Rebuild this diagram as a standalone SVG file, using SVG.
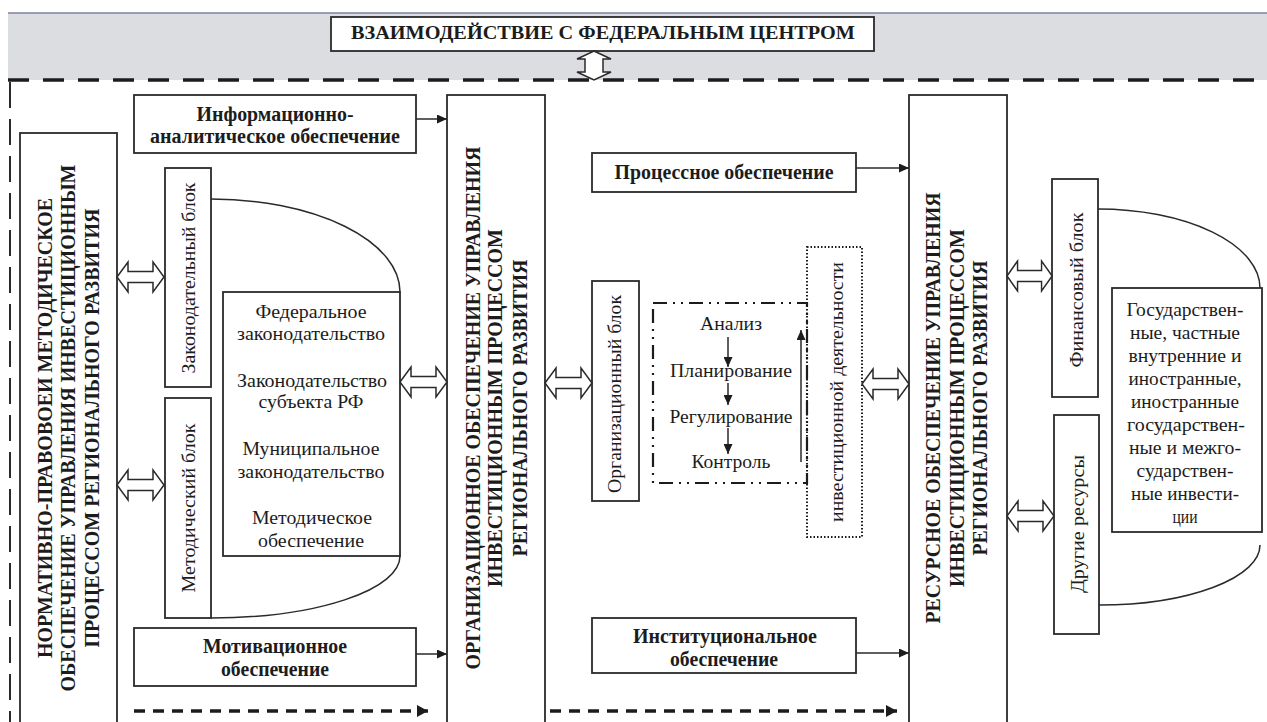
<svg xmlns="http://www.w3.org/2000/svg" width="1267" height="722" viewBox="0 0 1267 722">
  <style>
    .box{fill:#fff;stroke:#2a2a2a;stroke-width:1.8}
    .ln{fill:none;stroke:#2a2a2a;stroke-width:1.5}
    .t{font-family:"Liberation Serif","DejaVu Serif",serif;fill:#1c1c1c;font-size:19.5px}
    .b{font-weight:bold;font-size:20px}
    .big{font-family:"Liberation Serif","DejaVu Serif",serif;fill:#1c1c1c;font-weight:bold;font-size:21px}
    .dbl{fill:#fff;stroke:#2a2a2a;stroke-width:1.5}
    .arr{fill:none;stroke:#2a2a2a;stroke-width:1.5}
    .dash{fill:none;stroke:#1c1c1c;stroke-width:3.5;stroke-dasharray:11 8}
  </style>
  <defs>
    <marker id="ah" markerUnits="userSpaceOnUse" markerWidth="11" markerHeight="9" refX="10" refY="4.5" orient="auto">
      <path d="M0,0 L10,4.5 L0,9 Z" fill="#1c1c1c"/>
    </marker>
    <marker id="ahb" markerUnits="userSpaceOnUse" markerWidth="12" markerHeight="12" refX="11" refY="6" orient="auto">
      <path d="M0,0 L11,6 L0,12 Z" fill="#1c1c1c"/>
    </marker>
    <!-- hollow two-way arrow, 47 px long, centred on y=0 -->
    <path id="dblarrow" class="dbl" d="M0,0 L11,-15 L11,-5.5 L36,-5.5 L36,-15 L47,0 L36,15 L36,5.5 L11,5.5 L11,15 Z"/>
  </defs>

  <!-- federal level band -->
  <rect x="8" y="13" width="1259" height="67" fill="#dcdde0"/>
  <line x1="8" y1="13" x2="1267" y2="13" stroke="#7c82a6" stroke-width="1.6"/>

  <g id="federal-center">
    <rect class="box" x="331" y="17" width="543" height="34"/>
    <text class="t" x="603" y="39" text-anchor="middle" font-weight="bold" font-size="18" textLength="504" lengthAdjust="spacingAndGlyphs">ВЗАИМОДЕЙСТВИЕ С ФЕДЕРАЛЬНЫМ ЦЕНТРОМ</text>
  </g>

  <!-- regional boundary -->
  <g id="boundary">
    <line x1="8" y1="80" x2="1267" y2="80" stroke="#1c1c1c" stroke-width="3.5" stroke-dasharray="21 14"/>
    <line x1="10" y1="82" x2="10" y2="722" stroke="#2a2a2a" stroke-width="2" stroke-dasharray="26 11"/>
  </g>

  <!-- left column -->
  <g id="normative">
    <rect class="box" x="20" y="133" width="97" height="600"/>
    <text class="big" transform="translate(52,428) rotate(-90)" text-anchor="middle" textLength="460" lengthAdjust="spacingAndGlyphs">НОРМАТИВНО-ПРАВОВОЕИ МЕТОДИЧЕСКОЕ</text>
    <text class="big" transform="translate(75,428) rotate(-90)" text-anchor="middle" textLength="527" lengthAdjust="spacingAndGlyphs">ОБЕСПЕЧЕНИЕ УПРАВЛЕНИЯ ИНВЕСТИЦИОННЫМ</text>
    <text class="big" transform="translate(99,428) rotate(-90)" text-anchor="middle" textLength="439" lengthAdjust="spacingAndGlyphs">ПРОЦЕССОМ РЕГИОНАЛЬНОГО РАЗВИТИЯ</text>
  </g>

  <g id="info-analytic">
    <rect class="box" x="134" y="95" width="282" height="58"/>
    <text class="t b" x="275" y="121" text-anchor="middle" textLength="157" lengthAdjust="spacingAndGlyphs">Информационно-</text>
    <text class="t b" x="275" y="143" text-anchor="middle" textLength="250" lengthAdjust="spacingAndGlyphs">аналитическое обеспечение</text>
  </g>

  <g id="legislative-block">
    <rect class="box" x="165" y="168" width="46" height="219"/>
    <text class="t" transform="translate(195,278) rotate(-90)" text-anchor="middle" textLength="191" lengthAdjust="spacingAndGlyphs">Законодательный блок</text>
  </g>

  <g id="methodical-block">
    <rect class="box" x="165" y="398" width="46" height="220"/>
    <text class="t" transform="translate(195,508) rotate(-90)" text-anchor="middle" textLength="169" lengthAdjust="spacingAndGlyphs">Методический блок</text>
  </g>

  <g id="legislation">
    <path class="ln" d="M211,199 A189,93 0 0 1 400,292"/>
    <path class="ln" d="M400,556 A189,62 0 0 1 211,618"/>
    <rect class="box" x="223" y="292" width="177" height="264"/>
    <text class="t" x="311" y="318" text-anchor="middle" textLength="111" lengthAdjust="spacingAndGlyphs">Федеральное</text>
    <text class="t" x="311" y="340" text-anchor="middle" textLength="148" lengthAdjust="spacingAndGlyphs">законодательство</text>
    <text class="t" x="312" y="387" text-anchor="middle" textLength="150" lengthAdjust="spacingAndGlyphs">Законодательство</text>
    <text class="t" x="311" y="408" text-anchor="middle" textLength="105" lengthAdjust="spacingAndGlyphs">субъекта РФ</text>
    <text class="t" x="311" y="455" text-anchor="middle" textLength="137" lengthAdjust="spacingAndGlyphs">Муниципальное</text>
    <text class="t" x="311" y="478" text-anchor="middle" textLength="147" lengthAdjust="spacingAndGlyphs">законодательство</text>
    <text class="t" x="312" y="524" text-anchor="middle" textLength="120" lengthAdjust="spacingAndGlyphs">Методическое</text>
    <text class="t" x="311" y="547" text-anchor="middle" textLength="106" lengthAdjust="spacingAndGlyphs">обеспечение</text>
  </g>

  <g id="motivational">
    <rect class="box" x="134" y="628" width="282" height="58"/>
    <text class="t b" x="275" y="653" text-anchor="middle" textLength="144" lengthAdjust="spacingAndGlyphs">Мотивационное</text>
    <text class="t b" x="275" y="676" text-anchor="middle" textLength="108" lengthAdjust="spacingAndGlyphs">обеспечение</text>
  </g>

  <!-- centre column -->
  <g id="organizational">
    <rect class="box" x="447" y="95" width="98" height="640"/>
    <text class="big" transform="translate(480,408) rotate(-90)" text-anchor="middle" textLength="523" lengthAdjust="spacingAndGlyphs">ОРГАНИЗАЦИОННОЕ ОБЕСПЕЧЕНИЕ УПРАВЛЕНИЯ</text>
    <text class="big" transform="translate(502,408) rotate(-90)" text-anchor="middle" textLength="358" lengthAdjust="spacingAndGlyphs">ИНВЕСТИЦИОННЫМ ПРОЦЕССОМ</text>
    <text class="big" transform="translate(527,408) rotate(-90)" text-anchor="middle" textLength="297" lengthAdjust="spacingAndGlyphs">РЕГИОНАЛЬНОГО РАЗВИТИЯ</text>
  </g>

  <g id="process">
    <rect class="box" x="592" y="153" width="264" height="39"/>
    <text class="t b" x="724" y="179" text-anchor="middle" textLength="219" lengthAdjust="spacingAndGlyphs">Процессное обеспечение</text>
  </g>

  <g id="org-block">
    <rect class="box" x="592" y="281" width="47" height="220"/>
    <text class="t" transform="translate(621,394) rotate(-90)" text-anchor="middle" textLength="198" lengthAdjust="spacingAndGlyphs">Организационный блок</text>
  </g>

  <g id="management-cycle">
    <rect x="653" y="303" width="154" height="180" fill="none" stroke="#1c1c1c" stroke-width="2.2" stroke-dasharray="14 6 2 6 2 6"/>
    <text class="t" x="731" y="330" text-anchor="middle" textLength="62" lengthAdjust="spacingAndGlyphs">Анализ</text>
    <text class="t" x="731" y="377" text-anchor="middle" textLength="122" lengthAdjust="spacingAndGlyphs">Планирование</text>
    <text class="t" x="731" y="423" text-anchor="middle" textLength="123" lengthAdjust="spacingAndGlyphs">Регулирование</text>
    <text class="t" x="731" y="468" text-anchor="middle" textLength="79" lengthAdjust="spacingAndGlyphs">Контроль</text>
  </g>

  <g id="investment-activity">
    <rect x="807" y="247" width="55" height="290" fill="none" stroke="#1c1c1c" stroke-width="2" stroke-dasharray="1.5 2"/>
    <text class="t" transform="translate(843,392) rotate(-90)" text-anchor="middle" textLength="260" lengthAdjust="spacingAndGlyphs">инвестиционной деятельности</text>
  </g>

  <g id="institutional">
    <rect class="box" x="592" y="618" width="264" height="55"/>
    <text class="t b" x="725" y="643" text-anchor="middle" textLength="184" lengthAdjust="spacingAndGlyphs">Институциональное</text>
    <text class="t b" x="724" y="666" text-anchor="middle" textLength="108" lengthAdjust="spacingAndGlyphs">обеспечение</text>
  </g>

  <!-- right column -->
  <g id="resource">
    <rect class="box" x="909" y="95" width="98" height="640"/>
    <text class="big" transform="translate(940,408) rotate(-90)" text-anchor="middle" textLength="431" lengthAdjust="spacingAndGlyphs">РЕСУРСНОЕ ОБЕСПЕЧЕНИЕ УПРАВЛЕНИЯ</text>
    <text class="big" transform="translate(964,408) rotate(-90)" text-anchor="middle" textLength="358" lengthAdjust="spacingAndGlyphs">ИНВЕСТИЦИОННЫМ ПРОЦЕССОМ</text>
    <text class="big" transform="translate(987,408) rotate(-90)" text-anchor="middle" textLength="295" lengthAdjust="spacingAndGlyphs">РЕГИОНАЛЬНОГО РАЗВИТИЯ</text>
  </g>

  <g id="finance-block">
    <rect class="box" x="1052" y="179" width="46" height="218"/>
    <text class="t" transform="translate(1083,290) rotate(-90)" text-anchor="middle" textLength="155" lengthAdjust="spacingAndGlyphs">Финансовый блок</text>
  </g>

  <g id="other-resources">
    <rect class="box" x="1054" y="415" width="45" height="219"/>
    <text class="t" transform="translate(1084,524) rotate(-90)" text-anchor="middle" textLength="138" lengthAdjust="spacingAndGlyphs">Другие ресурсы</text>
  </g>

  <g id="investments">
    <path class="ln" d="M1098,209 A162,79 0 0 1 1260,288"/>
    <path class="ln" d="M1260,545 A161,60 0 0 1 1099,605"/>
    <rect class="box" x="1112" y="288" width="150" height="244"/>
    <text class="t" x="1185" y="316" text-anchor="middle" textLength="117" lengthAdjust="spacingAndGlyphs">Государствен-</text>
    <text class="t" x="1185" y="339" text-anchor="middle" textLength="110" lengthAdjust="spacingAndGlyphs">ные, частные</text>
    <text class="t" x="1185" y="362" text-anchor="middle" textLength="113" lengthAdjust="spacingAndGlyphs">внутренние и</text>
    <text class="t" x="1185" y="385" text-anchor="middle" textLength="113" lengthAdjust="spacingAndGlyphs">иностранные,</text>
    <text class="t" x="1185" y="408" text-anchor="middle" textLength="108" lengthAdjust="spacingAndGlyphs">иностранные</text>
    <text class="t" x="1186" y="431" text-anchor="middle" textLength="118" lengthAdjust="spacingAndGlyphs">государствен-</text>
    <text class="t" x="1185" y="454" text-anchor="middle" textLength="112" lengthAdjust="spacingAndGlyphs">ные и межго-</text>
    <text class="t" x="1185" y="477" text-anchor="middle" textLength="97" lengthAdjust="spacingAndGlyphs">сударствен-</text>
    <text class="t" x="1185" y="500" text-anchor="middle" textLength="108" lengthAdjust="spacingAndGlyphs">ные инвести-</text>
    <text class="t" x="1185" y="523" text-anchor="middle" textLength="25" lengthAdjust="spacingAndGlyphs">ции</text>
  </g>

  <!-- connectors -->
  <g id="connectors">
    <path class="dbl" d="M594,51 L611,59 L603,59 L603,72 L611,72 L594,80 L577,72 L585,72 L585,59 L577,59 Z"/>

    <use href="#dblarrow" transform="translate(117,277)"/>
    <use href="#dblarrow" transform="translate(117,485)"/>
    <use href="#dblarrow" transform="translate(400,382)"/>
    <use href="#dblarrow" transform="translate(545,383)"/>
    <use href="#dblarrow" transform="translate(862,384)"/>
    <use href="#dblarrow" transform="translate(1007,276) scale(0.96,1)"/>
    <use href="#dblarrow" transform="translate(1007,516)"/>

    <line class="arr" x1="416" y1="119" x2="447" y2="119" marker-end="url(#ah)"/>
    <line class="arr" x1="416" y1="654" x2="447" y2="654" marker-end="url(#ah)"/>
    <line class="arr" x1="856" y1="168" x2="909" y2="168" marker-end="url(#ah)"/>
    <line class="arr" x1="856" y1="653" x2="909" y2="653" marker-end="url(#ah)"/>

    <line class="arr" x1="728" y1="337" x2="728" y2="367" marker-end="url(#ah)"/>
    <line class="arr" x1="728" y1="383" x2="728" y2="405" marker-end="url(#ah)"/>
    <line class="arr" x1="728" y1="428" x2="728" y2="454" marker-end="url(#ah)"/>
    <line class="arr" x1="801" y1="462" x2="801" y2="330" marker-end="url(#ah)"/>

    <line class="dash" x1="134" y1="711" x2="428" y2="711" marker-end="url(#ahb)"/>
    <line class="dash" x1="550" y1="711" x2="897" y2="711" marker-end="url(#ahb)"/>
  </g>
</svg>
